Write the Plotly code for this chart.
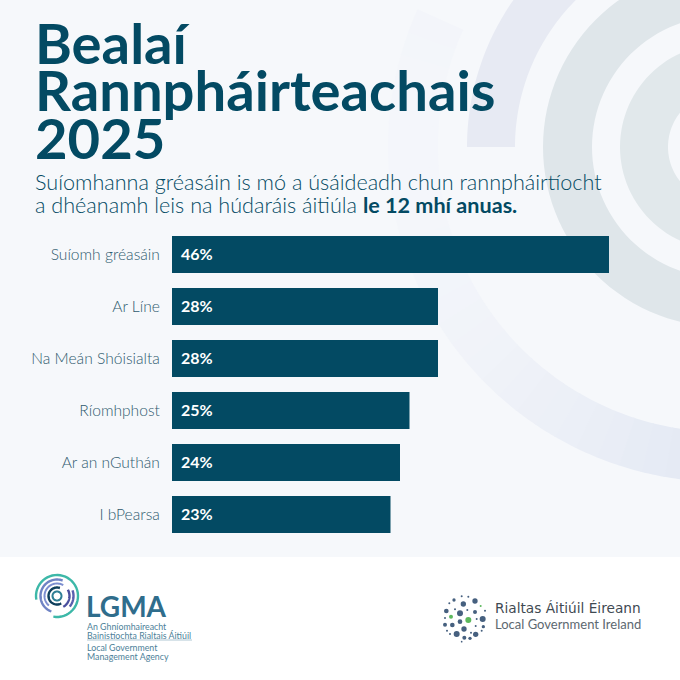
#!/usr/bin/env python3
# Bealaí Rannpháirteachais 2025: horizontal bars on a poster with ring background and two logos.
import math
import plotly.graph_objects as go

categories = ['Suíomh gréasáin', 'Ar Líne', 'Na Meán Shóisialta', 'Ríomhphost', 'Ar an nGuthán', 'I bPearsa']
values = [46, 28, 28, 25, 24, 23]
title_lines = ['Bealaí', 'Rannpháirteachais', '2025']
subtitle_lines = ['Suíomhanna gréasáin is mó a úsáideadh chun rannpháirtíocht',
                  'a dhéanamh leis na húdaráis áitiúla <b>le 12 mhí anuas.</b>']

W = 680
BG = '#f6f8fb'
NAVY = '#034a63'
FONT = 'Lato'


def px(x):
    return x / W


def py(y):
    return 1 - y / W


def ring_path(cx, cy, r0, r1, a0=0, a1=360, n=120):
    # annulus sector as a closed polygon, angles in degrees, y pointing down
    angs = [a0 + (a1 - a0) * i / n for i in range(n + 1)]
    pts = [(cx + r1 * math.cos(math.radians(a)), cy + r1 * math.sin(math.radians(a))) for a in angs]
    pts += [(cx + r0 * math.cos(math.radians(a)), cy + r0 * math.sin(math.radians(a))) for a in reversed(angs)]
    return 'M' + ' L'.join(f'{px(x):.5f},{py(y):.5f}' for x, y in pts) + ' Z'


def arc_path(cx, cy, r, a0, a1, n=40):
    angs = [a0 + (a1 - a0) * i / n for i in range(n + 1)]
    pts = [(cx + r * math.cos(math.radians(a)), cy + r * math.sin(math.radians(a))) for a in angs]
    return 'M' + ' L'.join(f'{px(x):.5f},{py(y):.5f}' for x, y in pts)


def blend(c0, c1, t):
    rgb = [round(a + (b - a) * t) for a, b in zip(c0, c1)]
    return f'rgb({rgb[0]},{rgb[1]},{rgb[2]})'


shapes = []


def fill_shape(path, color):
    shapes.append(dict(type='path', path=path, xref='paper', yref='paper', layer='below',
                       fillcolor=color, line=dict(width=0)))


# background rings, all around one centre off the right edge
CX, CY = 723, 147
shapes.append(dict(type='rect', xref='paper', yref='paper', x0=0, x1=1, y0=0, y1=1, layer='below',
                   fillcolor=BG, line=dict(width=0)))
# outer ring fades out towards the left
for i in range(36):
    a0 = 60 + i * 4
    a1 = a0 + 4.3
    mx = CX + 310 * math.cos(math.radians(a0 + 2))
    t = max(0, min(1, (mx - 400) / 280))
    fill_shape(ring_path(CX, CY, 285, 335, a0, a1, 6), blend((245, 247, 251), (229, 234, 244), t))
fill_shape(ring_path(CX, CY, 208, 256, 180, 300), '#e7eaf3')
fill_shape(ring_path(CX, CY, 131, 180), '#dfe6ea')
fill_shape(ring_path(CX, CY, 55, 103), '#e1e8eb')
# white footer
shapes.append(dict(type='rect', xref='paper', yref='paper', x0=0, x1=1, y0=0, y1=py(557), layer='below',
                   fillcolor='white', line=dict(width=0)))

# LGMA mark
LX, LY = 57, 596
for r, a0, a1, color, w in [
    (21, 170, 460, '#3db8a8', 2.4),
    (16.5, 110, 290, '#6f83c4', 2.4),
    (16.5, 340, 400, '#5a5fae', 2.4),
    (12.5, 130, 300, '#7d8fd0', 2),
    (12.5, 330, 420, '#4a4f9e', 2.4),
    (8.5, 60, 290, '#0f3f5c', 2.4),
    (4.5, 0, 360, '#2f7f95', 2),
]:
    shapes.append(dict(type='path', path=arc_path(LX, LY, r, a0, a1), xref='paper', yref='paper',
                       line=dict(color=color, width=w)))
shapes.append(dict(type='line', xref='paper', yref='paper', x0=px(87), x1=px(192), y0=py(640), y1=py(640),
                   line=dict(color='#9db9c8', width=0.8)))

# Local Government Ireland dot cloud, zoomed pixel positions
BLUE = '#46607f'
GREEN = '#5cb85c'
dots = [(57, 30, 5, BLUE), (80, 19, 3, BLUE), (100, 20, 3, BLUE), (120, 33, 8, BLUE), (43, 40, 3, BLUE),
        (85, 42, 8, BLUE), (137, 48, 3, GREEN), (34, 63, 7, BLUE), (60, 58, 3, BLUE), (75, 70, 9, BLUE),
        (97, 60, 3, BLUE), (120, 66, 6, BLUE), (150, 62, 3, BLUE), (48, 80, 6, GREEN), (100, 90, 9, GREEN),
        (143, 87, 9, BLUE), (125, 87, 3, BLUE), (30, 84, 3, BLUE), (30, 104, 6, BLUE), (52, 105, 7, BLUE),
        (75, 95, 7, BLUE), (122, 108, 3, BLUE), (145, 110, 5, BLUE), (36, 122, 3, BLUE), (87, 117, 8, BLUE),
        (65, 132, 9, BLUE), (108, 128, 3, BLUE), (122, 133, 8, BLUE), (45, 132, 3, BLUE), (88, 143, 6, BLUE),
        (105, 145, 5, BLUE), (80, 155, 2.5, BLUE), (140, 122, 3, BLUE)]
for zx, zy, zr, color in dots:
    x, y, r = 435 + zx / 3, 590 + zy / 3, zr / 3
    shapes.append(dict(type='circle', xref='paper', yref='paper', x0=px(x - r), x1=px(x + r),
                       y0=py(y + r), y1=py(y - r), fillcolor=color, line=dict(width=0)))

annotations = []


def label(x, y, text, size, color, weight=400, family=FONT):
    # y is the pixel line of the vertical middle of the text box
    annotations.append(dict(x=px(x), y=py(y), xref='paper', yref='paper', text=text, showarrow=False,
                            xanchor='left', yanchor='middle', align='left', borderpad=0, borderwidth=0,
                            font=dict(family=family, size=size, color=color, weight=weight)))


for text, y in zip(title_lines, [42, 90, 138]):
    label(35, y, text, 56.2, NAVY, weight=700)
for text, y in zip(subtitle_lines, [182, 205]):
    label(35, y, text, 21.6, NAVY, weight=300)

label(86, 606, 'LGMA', 28, '#2f6d8c', weight=700)
label(87, 626, 'An Ghníomhaireacht', 8.8, '#4d7f99')
label(87, 635, 'Bainistíochta Rialtais Áitiúil', 8.8, '#4d7f99')
label(87, 647, 'Local Government', 8.8, '#4d7f99')
label(87, 656, 'Management Agency', 8.8, '#4d7f99')
label(495, 608, 'Rialtas Áitiúil Éireann', 13.7, '#3f4a52', family='DejaVu Sans')
label(495, 624, 'Local Government Ireland', 13, '#5d6870')

# value labels sit at the start of each bar
for cat, val in zip(categories, values):
    annotations.append(dict(x=0, y=cat, xref='x', yref='y', text=f'<b>{val}%</b>', showarrow=False,
                            xanchor='left', xshift=7, yshift=1, font=dict(family=FONT, size=16, color='white')))

fig = go.Figure(go.Bar(x=values, y=categories, orientation='h', marker=dict(color=NAVY, line=dict(width=0)),
                       hoverinfo='skip'))
fig.update_layout(
    width=W, height=W, margin=dict(l=0, r=0, t=0, b=0), autosize=False,
    paper_bgcolor=BG, plot_bgcolor='rgba(0,0,0,0)', bargap=15 / 52, showlegend=False,
    shapes=shapes, annotations=annotations,
    xaxis=dict(domain=[px(172), px(609)], range=[0, 46], visible=False, fixedrange=True),
    yaxis=dict(domain=[py(540.5), py(228.5)], autorange='reversed', type='category', showline=False,
               showgrid=False, zeroline=False, ticks='outside', ticklen=8, tickcolor='rgba(0,0,0,0)',
               tickfont=dict(family=FONT, size=15.6, color='#2f5a6e', weight=300), fixedrange=True, anchor='x'),
)
fig.write_html('out.html', config=dict(displayModeBar=False), post_script="document.body.style.margin='0';")
